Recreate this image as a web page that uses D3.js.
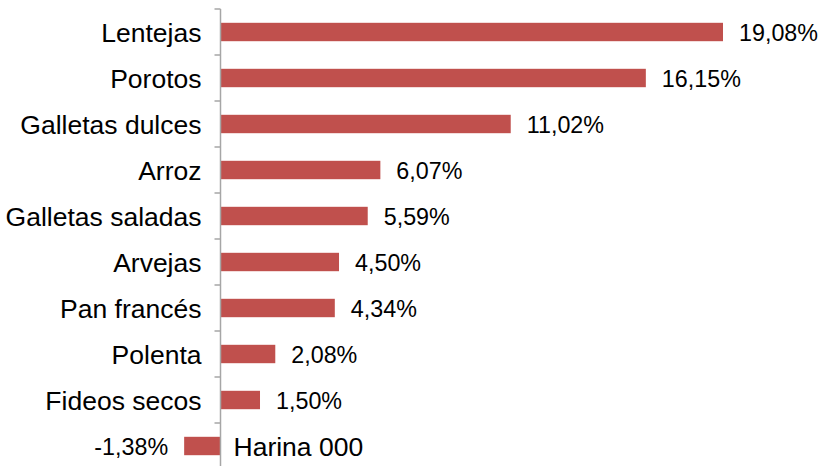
<!DOCTYPE html>
<html><head><meta charset="utf-8">
<script src="https://cdn.jsdelivr.net/npm/d3@7"></script>
<style>body{margin:0;background:#fff}svg{display:block}</style>
</head><body>
<script>
const categories = ["Lentejas","Porotos","Galletas dulces","Arroz","Galletas saladas","Arvejas","Pan francés","Polenta","Fideos secos","Harina 000"];
const values = [19.08,16.15,11.02,6.07,5.59,4.50,4.34,2.08,1.50,-1.38];
const labels = ["19,08%","16,15%","11,02%","6,07%","5,59%","4,50%","4,34%","2,08%","1,50%","-1,38%"];

const W=821,H=466;
const svg=d3.select("body").append("svg").attr("width",W).attr("height",H);
const x=d3.scaleLinear().domain([0,19.08]).range([220.5,723]);
const y=d3.scaleBand().domain(categories).range([9,469]).paddingInner(0.6).paddingOuter(0.3);
const yb=d3.scaleBand().domain(categories).range([9,469]);
const font="Liberation Sans, Arial, sans-serif";

svg.selectAll("rect.bar").data(categories).join("rect")
  .attr("fill","#c0504d")
  .attr("x",(d,i)=>Math.min(x(0),x(values[i])))
  .attr("width",(d,i)=>Math.abs(x(values[i])-x(0)))
  .attr("y",d=>y(d)).attr("height",y.bandwidth());

// axis
const g=svg.append("g").attr("stroke","#a6a6a6").attr("stroke-width",1.5);
g.append("line").attr("x1",x(0)).attr("x2",x(0)).attr("y1",yb.range()[0]).attr("y2",yb.range()[1]);
const ticks=categories.map(c=>yb(c)).concat([yb.range()[1]]);
g.selectAll("line.t").data(ticks).join("line").attr("class","t")
  .attr("x1",x(0)-6).attr("x2",x(0)).attr("y1",d=>d).attr("y2",d=>d);

// category labels
svg.selectAll("text.cat").data(categories).join("text")
  .attr("font-family",font).attr("font-size",26.5).attr("fill","#000")
  .attr("dominant-baseline","central")
  .attr("y",d=>y(d)+y.bandwidth()/2+1)
  .attr("x",(d,i)=>values[i]<0?x(0)+13:x(0)-19)
  .attr("text-anchor",(d,i)=>values[i]<0?"start":"end")
  .text(d=>d);

// value labels
svg.selectAll("text.val").data(categories).join("text")
  .attr("font-family",font).attr("font-size",23.3).attr("fill","#000")
  .attr("dominant-baseline","central")
  .attr("y",d=>y(d)+y.bandwidth()/2+1)
  .attr("x",(d,i)=>values[i]<0?x(values[i])-16:x(values[i])+16)
  .attr("text-anchor",(d,i)=>values[i]<0?"end":"start")
  .text((d,i)=>labels[i]);
</script>
</body></html>
